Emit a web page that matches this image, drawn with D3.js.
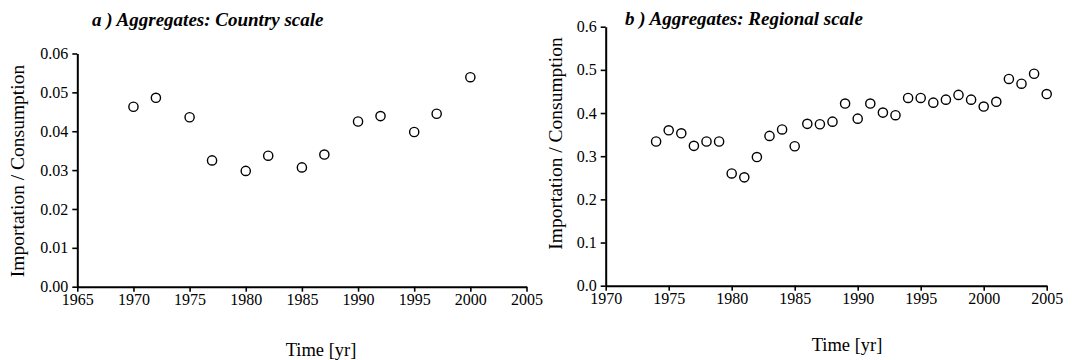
<!DOCTYPE html>
<html><head><meta charset="utf-8">
<script src="https://cdn.jsdelivr.net/npm/d3@7"></script>
<style>
body{margin:0;background:#fff;}
</style></head>
<body><svg id="c" width="1080" height="360" font-family="Liberation Serif"></svg>
<script>
// Panel a: country scale
const yearsA = [1970,1972,1975,1977,1980,1982,1985,1987,1990,1992,1995,1997,2000];
const valuesA = [0.0463,0.0486,0.0436,0.0325,0.0298,0.0337,0.0307,0.0340,0.0425,0.0439,0.0398,0.0445,0.0539];
const xTicksA = [1965,1970,1975,1980,1985,1990,1995,2000,2005];
const yTicksA = [0,0.01,0.02,0.03,0.04,0.05,0.06];
// Panel b: regional scale
const yearsB = [1974,1975,1976,1977,1978,1979,1980,1981,1982,1983,1984,1985,1986,1987,1988,1989,1990,1991,1992,1993,1994,1995,1996,1997,1998,1999,2000,2001,2002,2003,2004,2005];
const valuesB = [0.334,0.360,0.353,0.324,0.334,0.334,0.260,0.251,0.298,0.347,0.362,0.323,0.375,0.374,0.380,0.422,0.387,0.422,0.401,0.395,0.435,0.435,0.424,0.431,0.442,0.431,0.415,0.426,0.479,0.468,0.491,0.444];
const xTicksB = [1970,1975,1980,1985,1990,1995,2000,2005];
const yTicksB = [0,0.1,0.2,0.3,0.4,0.5,0.6];

const svg = d3.select("#c");
const FONT = "Liberation Serif";

function panel(cfg){
  const g = svg.append("g");
  const x = d3.scaleLinear().domain(cfg.xDomain).range(cfg.xRange);
  const y = d3.scaleLinear().domain(cfg.yDomain).range(cfg.yRange);
  const xa = g.append("g").attr("transform",`translate(0,${cfg.yRange[0]})`);
  xa.call(d3.axisBottom(x).tickValues(cfg.xTicks).tickFormat(d3.format("d")).tickSize(5).tickSizeOuter(0).tickPadding(2));
  const ya = g.append("g").attr("transform",`translate(${cfg.xRange[0]},0)`);
  ya.call(d3.axisLeft(y).tickValues(cfg.yTicks).tickFormat(d3.format(cfg.yFmt)).tickSize(5).tickSizeOuter(0).tickPadding(4));
  [xa,ya].forEach(a=>{
    a.attr("font-family",FONT).attr("font-size",16);
    a.select(".domain").attr("stroke","#000").attr("stroke-width",2);
    a.selectAll(".tick line").attr("stroke","#000").attr("stroke-width",1.6);
    a.selectAll(".tick text").attr("fill","#000");
  });
  g.selectAll("circle.pt").data(cfg.years.map((d,i)=>[d,cfg.values[i]]))
    .enter().append("circle").attr("class","pt")
    .attr("cx",d=>x(d[0])).attr("cy",d=>y(d[1])).attr("r",4.6)
    .attr("fill","#fff").attr("stroke","#000").attr("stroke-width",1.4);
  g.append("text").attr("x",cfg.title[1]).attr("y",cfg.title[2])
    .attr("font-family",FONT).attr("font-size",19).attr("font-weight","bold").attr("font-style","italic")
    .text(cfg.title[0]);
  g.append("text").attr("x",cfg.xLab[0]).attr("y",cfg.xLab[1]).attr("text-anchor","middle")
    .attr("font-family",FONT).attr("font-size",18.5).text("Time [yr]");
  g.append("text").attr("transform",`translate(${cfg.yLab[0]},${cfg.yLab[1]}) rotate(-90)`)
    .attr("text-anchor","middle").attr("dy","0.35em")
    .attr("font-family",FONT).attr("font-size",19.5).text("Importation / Consumption");
}

panel({xDomain:[1965,2005], xRange:[77.3,526.5], yDomain:[0,0.06], yRange:[286.7,53.5],
  xTicks:xTicksA, yTicks:yTicksA, yFmt:".2f", years:yearsA, values:valuesA,
  title:["a ) Aggregates: Country scale",92,26], xLab:[321,356], yLab:[17,171]});
panel({xDomain:[1970,2005], xRange:[605.7,1046.7], yDomain:[0,0.6], yRange:[285.7,26.7],
  xTicks:xTicksB, yTicks:yTicksB, yFmt:".1f", years:yearsB, values:valuesB,
  title:["b ) Aggregates: Regional scale",625,25], xLab:[847,351], yLab:[555,143.5]});
</script></body></html>
